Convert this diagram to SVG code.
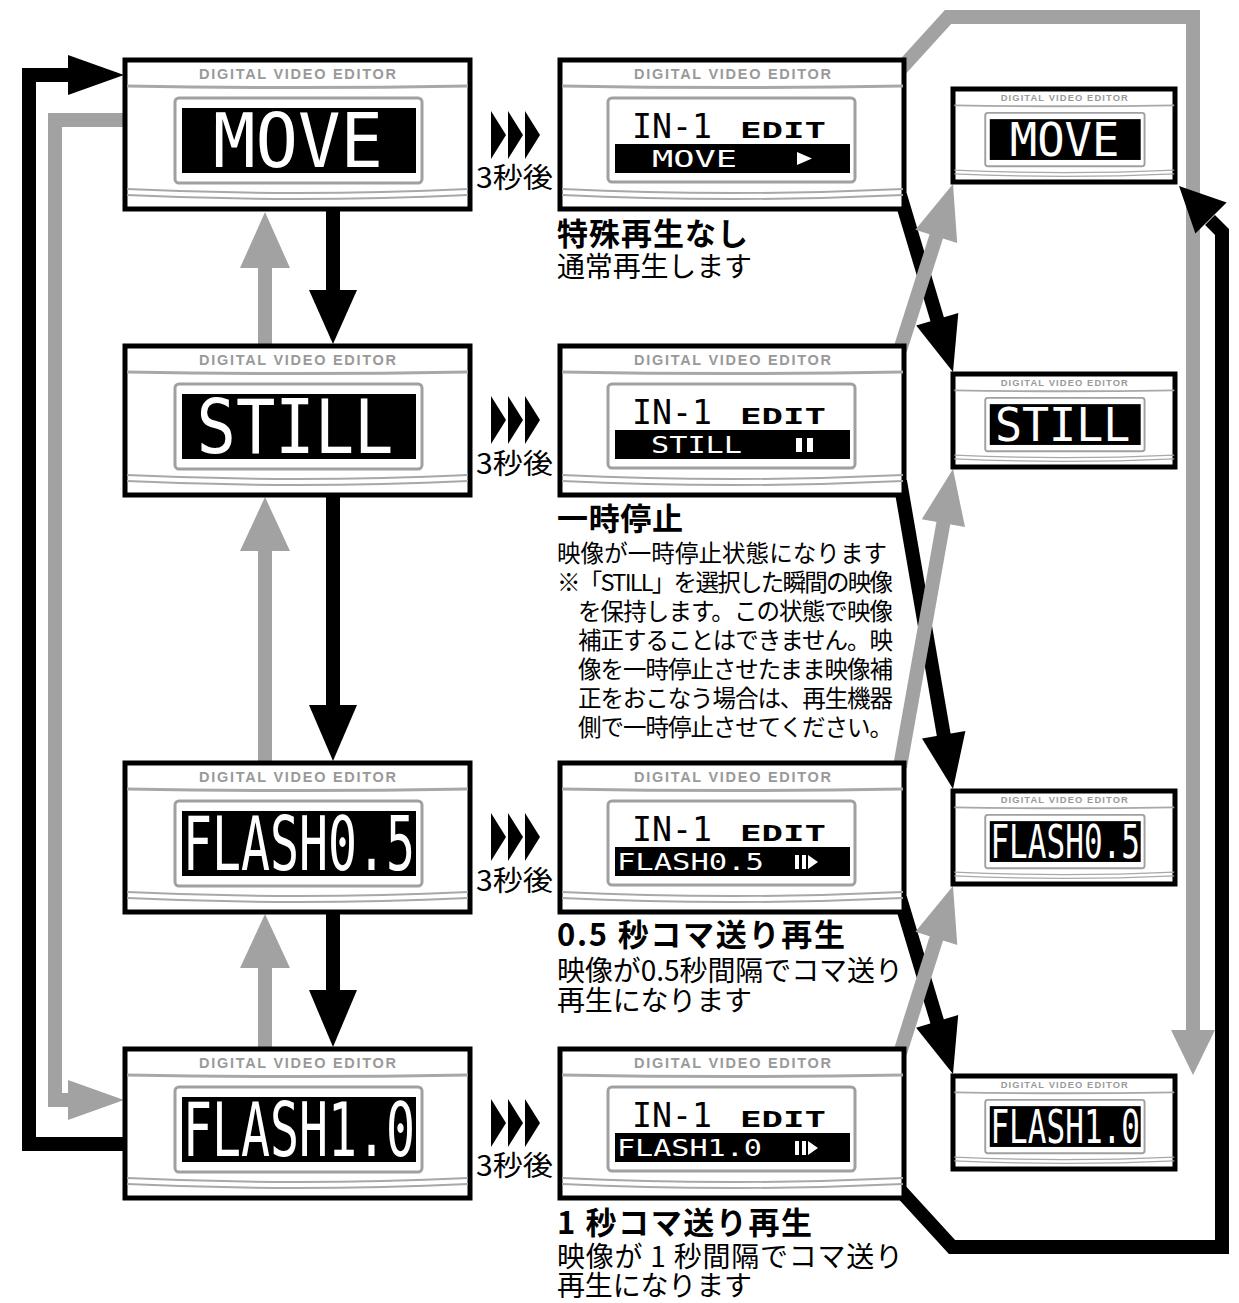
<svg xmlns="http://www.w3.org/2000/svg" xmlns:xlink="http://www.w3.org/1999/xlink" width="1239" height="1303" viewBox="0 0 1239 1303">
<style>
.frame{fill:#fff;stroke:#000;stroke-width:5}
.hdr{font-family:"Liberation Sans",Arial,sans-serif;font-weight:bold;font-size:14.5px;fill:#999;text-anchor:middle}
.bz{fill:none;stroke:#a8a8a8;stroke-width:3}
.bz2{fill:none;stroke:#a8a8a8;stroke-width:2}
.lcdf{fill:#fff;stroke:#a0a0a0;stroke-width:3}
.lcd{fill:#000}
.big{font-family:"DejaVu Sans Mono",monospace;font-size:75px;fill:#fff;text-anchor:middle}
.in1{font-family:"DejaVu Sans Mono",monospace;font-size:34px;fill:#000}
.edit{font-family:"DejaVu Sans Mono",monospace;font-weight:bold;font-size:21px;fill:#000}
.bar{font-family:"DejaVu Sans Mono",monospace;font-size:23px;fill:#fff}
.blk{fill:none;stroke:#000;stroke-width:14;stroke-linejoin:miter}
.gry{fill:none;stroke:#a2a2a2;stroke-width:14;stroke-linejoin:miter}
.bh{fill:#000}
.gh{fill:#a2a2a2}
.ttl{font-family:"Noto Sans CJK JP",sans-serif;font-weight:bold;font-size:31px;fill:#000}
.dsc{font-family:"Noto Sans CJK JP",sans-serif;font-size:28px;fill:#000}
.sm{font-family:"Noto Sans CJK JP",sans-serif;font-size:23.5px;fill:#000}
.sec{font-family:"Noto Sans CJK JP",sans-serif;font-size:28px;fill:#000}
</style>
<defs>
<g id="bezel">
<text class="hdr" x="172.5" y="19" textLength="197">DIGITAL VIDEO EDITOR</text>
<path class="bz" d="M2,26 Q172,29 343,26"/>
<path class="bz2" d="M2,129 Q172,137 343,129"/>
<path class="bz2" d="M2,135 Q172,143 343,135"/>
</g>
<g id="lcdL">
<rect class="lcdf" x="50" y="38" width="247" height="85" rx="4"/>
<rect class="lcd" x="57" y="48" width="234" height="65"/>
</g>
<g id="lcdM">
<rect class="lcdf" x="48" y="38" width="247" height="84" rx="4"/>
<text class="in1" x="72" y="78" textLength="80" lengthAdjust="spacingAndGlyphs">IN-1</text>
<text class="edit" x="180" y="78" textLength="86" lengthAdjust="spacingAndGlyphs">EDIT</text>
<rect class="lcd" x="55" y="84" width="235" height="29"/>
</g>
<g id="chev">
<polygon points="491,0 506,24 491,48"/>
<polygon points="508,0 523,24 508,48"/>
<polygon points="525,0 540,24 525,48"/>
</g>
</defs>

<g id="connectors">
<path class="blk" d="M125,1144 H29 V75 H75"/>
<polygon class="bh" points="68,55 124,75 68,95"/>
<path class="gry" d="M125,120 H55 V1100 H75"/>
<polygon class="gh" points="68,1080 124,1100 68,1120"/>
<path class="blk" d="M333,205 V295"/>
<polygon class="bh" points="309,290 357,290 333,344"/>
<path class="gry" d="M265,262 V350"/>
<polygon class="gh" points="240,268 290,268 265,212"/>
<path class="blk" d="M333,490 V710"/>
<polygon class="bh" points="309,705 357,705 333,761"/>
<path class="gry" d="M265,545 V767"/>
<polygon class="gh" points="240,551 290,551 265,497"/>
<path class="blk" d="M333,907 V995"/>
<polygon class="bh" points="309,990 357,990 333,1047"/>
<path class="gry" d="M265,962 V1053"/>
<polygon class="gh" points="240,968 290,968 265,914"/>
<path class="blk" d="M900,195 L940.1,328.9"/>
<polygon class="bh" points="958.3,313 953,372 916.2,325.6"/>
<path class="blk" d="M900,481 L945.4,744.6"/>
<polygon class="bh" points="965.4,731.1 953,789 922,738.5"/>
<path class="blk" d="M900,898 L940,1030.9"/>
<polygon class="bh" points="958.2,1015 953,1074 916.1,1027.7"/>
<path class="gry" d="M900,350 L939.3,226.9"/>
<polygon class="gh" points="957.2,243.1 953,184 915.3,229.7"/>
<path class="gry" d="M900,767 L945.1,513.3"/>
<polygon class="gh" points="965,527 953,469 921.7,519.3"/>
<path class="gry" d="M900,1053 L939.4,928.9"/>
<polygon class="gh" points="957.3,945.1 953,886 915.4,931.8"/>
<path class="gry" d="M898,72 L948,17 H1193 V1035"/>
<polygon class="gh" points="1171,1030 1215,1030 1193,1075"/>
<path class="blk" d="M898,1188 L952,1247 H1222 V232 L1210,220"/>
<polygon class="bh" points="1226.6,202.4 1179,186 1195.4,233.6"/>
</g>

<g id="node-move">
<g transform="translate(125,60)">
<rect class="frame" x="0" y="0" width="345" height="149"/>
<use xlink:href="#bezel"/><use xlink:href="#lcdL"/>
<text class="big" x="173" y="107" textLength="170" lengthAdjust="spacingAndGlyphs">MOVE</text>
</g>
</g>
<g id="node-still">
<g transform="translate(125,346)">
<rect class="frame" x="0" y="0" width="345" height="149"/>
<use xlink:href="#bezel"/><use xlink:href="#lcdL"/>
<text class="big" x="170" y="107" textLength="197" lengthAdjust="spacingAndGlyphs">STILL</text>
</g>
</g>
<g id="node-flash05">
<g transform="translate(125,763)">
<rect class="frame" x="0" y="0" width="345" height="149"/>
<use xlink:href="#bezel"/><use xlink:href="#lcdL"/>
<text class="big" x="174" y="107" textLength="232" lengthAdjust="spacingAndGlyphs">FLASH0.5</text>
</g>
</g>
<g id="node-flash10">
<g transform="translate(125,1049)">
<rect class="frame" x="0" y="0" width="345" height="149"/>
<use xlink:href="#bezel"/><use xlink:href="#lcdL"/>
<text class="big" x="174" y="107" textLength="232" lengthAdjust="spacingAndGlyphs">FLASH1.0</text>
</g>
</g>

<g id="edit-move">
<g transform="translate(560,60)">
<rect class="frame" x="0" y="0" width="344" height="149"/>
<use xlink:href="#bezel"/><use xlink:href="#lcdM"/>
<text class="bar" x="92" y="107" textLength="85" lengthAdjust="spacingAndGlyphs">MOVE</text>
<polygon fill="#fff" points="237,92 252,98.5 237,105"/>
</g>
</g>
<g id="edit-still">
<g transform="translate(560,346)">
<rect class="frame" x="0" y="0" width="344" height="149"/>
<use xlink:href="#bezel"/><use xlink:href="#lcdM"/>
<text class="bar" x="91" y="107" textLength="91" lengthAdjust="spacingAndGlyphs">STILL</text>
<rect fill="#fff" x="236" y="92" width="6" height="14"/>
<rect fill="#fff" x="247" y="92" width="6" height="14"/>
</g>
</g>
<g id="edit-flash05">
<g transform="translate(560,763)">
<rect class="frame" x="0" y="0" width="344" height="149"/>
<use xlink:href="#bezel"/><use xlink:href="#lcdM"/>
<text class="bar" x="57" y="107" textLength="147" lengthAdjust="spacingAndGlyphs">FLASH0.5</text>
<rect fill="#fff" x="235" y="92" width="4" height="14"/>
<rect fill="#fff" x="242" y="92" width="4" height="14"/>
<polygon fill="#fff" points="248,92 258,99 248,106"/>
</g>
</g>
<g id="edit-flash10">
<g transform="translate(560,1049)">
<rect class="frame" x="0" y="0" width="344" height="149"/>
<use xlink:href="#bezel"/><use xlink:href="#lcdM"/>
<text class="bar" x="57" y="107" textLength="145" lengthAdjust="spacingAndGlyphs">FLASH1.0</text>
<rect fill="#fff" x="235" y="92" width="4" height="14"/>
<rect fill="#fff" x="242" y="92" width="4" height="14"/>
<polygon fill="#fff" points="248,92 258,99 248,106"/>
</g>
</g>

<g id="small-move">
<rect class="frame" x="953" y="89" width="222" height="93"/>
<g transform="translate(953,89) scale(0.645,0.628)">
<use xlink:href="#bezel"/><use xlink:href="#lcdL"/>
<text class="big" x="173" y="107" textLength="170" lengthAdjust="spacingAndGlyphs">MOVE</text>
</g>
</g>
<g id="small-still">
<rect class="frame" x="953" y="374" width="222" height="93"/>
<g transform="translate(953,374) scale(0.645,0.628)">
<use xlink:href="#bezel"/><use xlink:href="#lcdL"/>
<text class="big" x="170" y="107" textLength="210" lengthAdjust="spacingAndGlyphs">STILL</text>
</g>
</g>
<g id="small-flash05">
<rect class="frame" x="953" y="791" width="222" height="93"/>
<g transform="translate(953,791) scale(0.645,0.628)">
<use xlink:href="#bezel"/><use xlink:href="#lcdL"/>
<text class="big" x="174" y="107" textLength="232" lengthAdjust="spacingAndGlyphs">FLASH0.5</text>
</g>
</g>
<g id="small-flash10">
<rect class="frame" x="953" y="1076" width="222" height="93"/>
<g transform="translate(953,1076) scale(0.645,0.628)">
<use xlink:href="#bezel"/><use xlink:href="#lcdL"/>
<text class="big" x="174" y="107" textLength="232" lengthAdjust="spacingAndGlyphs">FLASH1.0</text>
</g>
</g>

<g id="delay-labels">
<use xlink:href="#chev" transform="translate(0,111)"/>
<text class="sec" x="476" y="188" textLength="77" lengthAdjust="spacingAndGlyphs">3秒後</text>
<use xlink:href="#chev" transform="translate(0,396)"/>
<text class="sec" x="476" y="474" textLength="77" lengthAdjust="spacingAndGlyphs">3秒後</text>
<use xlink:href="#chev" transform="translate(0,813)"/>
<text class="sec" x="476" y="891" textLength="77" lengthAdjust="spacingAndGlyphs">3秒後</text>
<use xlink:href="#chev" transform="translate(0,1099)"/>
<text class="sec" x="476" y="1176" textLength="77" lengthAdjust="spacingAndGlyphs">3秒後</text>
</g>

<g id="captions">
<text class="ttl" x="557" y="245" textLength="191">特殊再生なし</text>
<text class="dsc" x="557" y="277" textLength="195">通常再生します</text>
<text class="ttl" x="557" y="530" textLength="126">一時停止</text>
<text class="sm" x="557" y="562" textLength="330">映像が一時停止状態になります</text>
<text class="sm" x="557" y="591" textLength="336">※「STILL」を選択した瞬間の映像</text>
<text class="sm" x="578" y="620" textLength="315">を保持します。この状態で映像</text>
<text class="sm" x="578" y="649" textLength="315">補正することはできません。映</text>
<text class="sm" x="578" y="678" textLength="315">像を一時停止させたまま映像補</text>
<text class="sm" x="578" y="707" textLength="315">正をおこなう場合は、再生機器</text>
<text class="sm" x="578" y="736" textLength="315">側で一時停止させてください。</text>
<text class="ttl" x="557" y="946" textLength="288">0.5 秒コマ送り再生</text>
<text class="dsc" x="557" y="981" textLength="346">映像が0.5秒間隔でコマ送り</text>
<text class="dsc" x="557" y="1011" textLength="195">再生になります</text>
<text class="ttl" x="557" y="1234" textLength="255">1 秒コマ送り再生</text>
<text class="dsc" x="557" y="1267" textLength="346">映像が 1 秒間隔でコマ送り</text>
<text class="dsc" x="557" y="1296" textLength="195">再生になります</text>
</g>
</svg>
